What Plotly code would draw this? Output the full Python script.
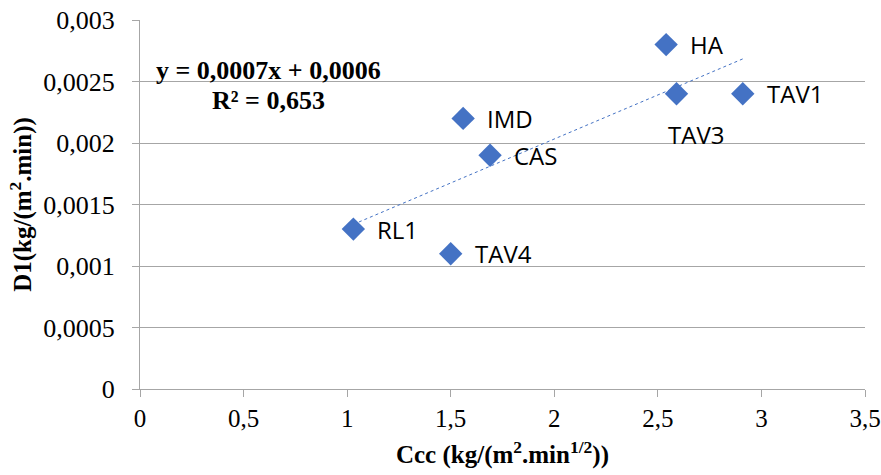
import numpy as np
import plotly.graph_objects as go

names = ["RL1", "TAV4", "IMD", "CAS", "HA", "TAV3", "TAV1"]
ccc = [1.03, 1.50, 1.56, 1.69, 2.54, 2.59, 2.91]
d1 = [0.0013, 0.0011, 0.0022, 0.0019, 0.0028, 0.0024, 0.0024]
below = [False, False, False, False, False, True, False]

x_ticks = [0, 0.5, 1, 1.5, 2, 2.5, 3, 3.5]
y_ticks = [0, 0.0005, 0.001, 0.0015, 0.002, 0.0025, 0.003]

slope, intercept = np.polyfit(ccc, d1, 1)
xs = np.array([min(ccc), max(ccc)])
ys = slope * xs + intercept

blue = "#4472C4"
grid = "#A6A6A6"
serif = "Liberation Serif"
sans = "Open Sans"

fig = go.Figure()
fig.add_trace(go.Scatter(
    x=list(xs), y=list(ys), mode="lines",
    line=dict(color=blue, width=1, dash="dot"),
    hoverinfo="skip", showlegend=False))
fig.add_trace(go.Scatter(
    x=ccc, y=d1, mode="markers",
    marker=dict(symbol="diamond", size=18, color=blue),
    showlegend=False))

for n, xv, yv, b in zip(names, ccc, d1, below):
    if b:
        fig.add_annotation(x=xv, y=yv, xref="x", yref="y", text=n, showarrow=False,
                           xanchor="center", yanchor="top", xshift=19, yshift=-22,
                           font=dict(family=sans, size=24, color="#000000"))
    else:
        fig.add_annotation(x=xv, y=yv, xref="x", yref="y", text=n, showarrow=False,
                           xanchor="left", yanchor="middle", xshift=22, yshift=0,
                           font=dict(family=sans, size=24, color="#000000"))

fig.add_annotation(
    x=0.1766, y=0.864, xref="paper", yref="paper", xanchor="center", yanchor="middle",
    text="<b>y = 0,0007x + 0,0006</b>", showarrow=False,
    font=dict(family=serif, size=26, color="#000000"))
fig.add_annotation(
    x=0.1766, y=0.783, xref="paper", yref="paper", xanchor="center", yanchor="middle",
    text="<b>R² = 0,653</b>", showarrow=False,
    font=dict(family=serif, size=26, color="#000000"))

fig.update_layout(
    width=881, height=475,
    margin=dict(l=140, r=16, t=20, b=86),
    paper_bgcolor="white", plot_bgcolor="white",
    separators=",.",
    font=dict(family=serif, size=26, color="#000000"),
    xaxis=dict(
        range=[0, 3.50001], tickvals=x_ticks, tickformat=".1~f", automargin=False,
        showgrid=False, zeroline=False,
        showline=True, linecolor=grid, linewidth=1,
        ticks="outside", ticklen=7, tickcolor=grid,
        tickfont=dict(family=serif, size=25, color="#000000"),
        title=dict(text="<b>Ccc (kg/(m<sup>2</sup>.min<sup>1/2</sup>))</b>", standoff=14,
                   font=dict(family=serif, size=25, color="#000000")),
    ),
    yaxis=dict(
        range=[0, 0.0030001], tickvals=y_ticks, tickformat=".4~f", automargin=False,
        showgrid=True, gridcolor=grid, gridwidth=1, zeroline=False,
        showline=True, linecolor=grid, linewidth=1,
        ticks="outside", ticklen=7, tickcolor=grid, ticklabelstandoff=12,
        tickfont=dict(family=serif, size=26, color="#000000"),
        title=dict(text="<b>D1(kg/(m<sup>2</sup>.min))</b>", standoff=4,
                   font=dict(family=serif, size=25, color="#000000")),
    ),
)

fig.write_html("out.html", config={"displayModeBar": False},
               post_script="document.body.style.margin='0';")
